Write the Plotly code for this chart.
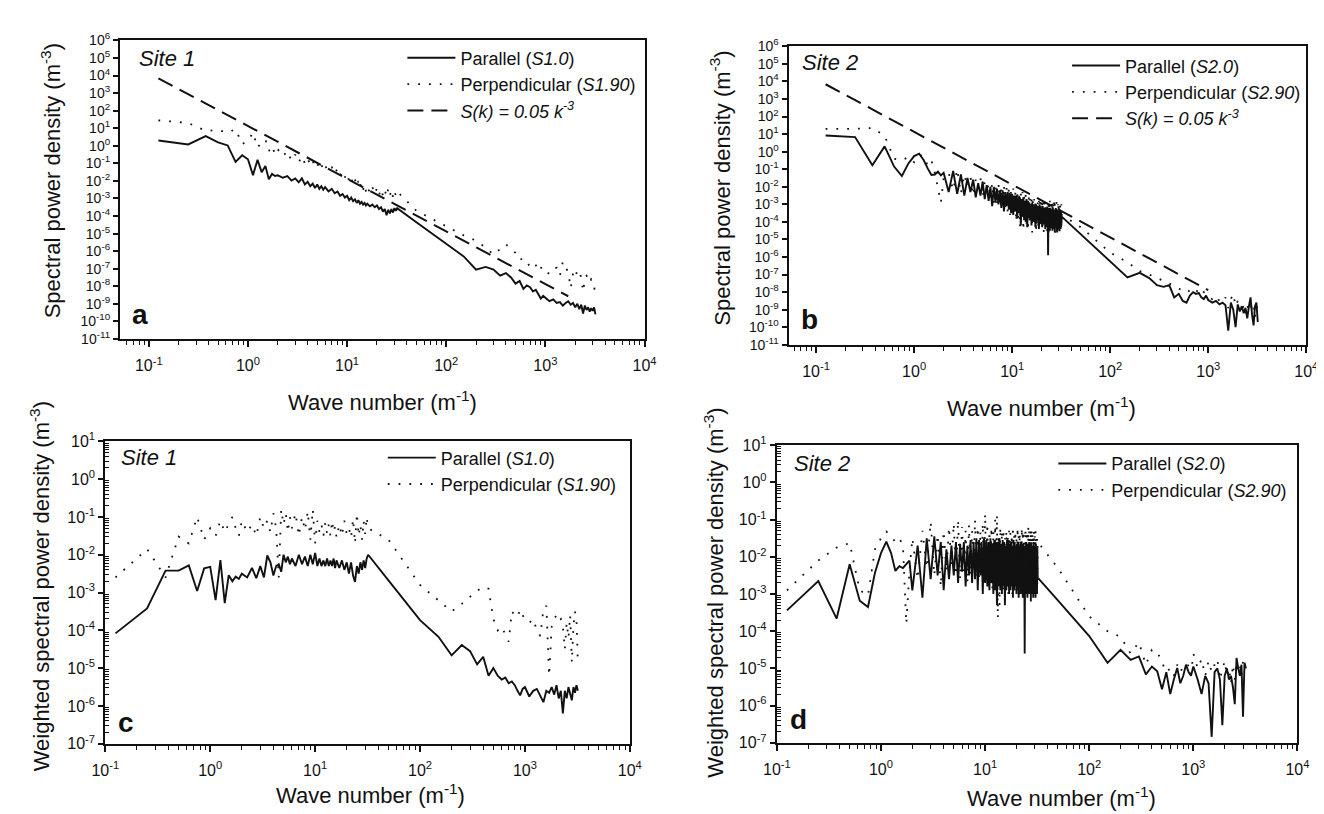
import plotly.graph_objects as go

# ---------------- data (wave number grids, m^-1) ----------------
# Site 1 grid
K1_LO = [0.125, 0.25, 0.375, 0.5, 0.625, 0.75, 0.875, 1.0, 1.125, 1.25, 1.375, 1.5, 1.625, 1.75, 1.875, 2.0,
         2.25, 2.5, 2.75, 3.0, 3.25, 3.5, 3.75, 4.0, 4.25, 4.5, 4.75, 5.0,
         5.25, 5.5, 5.75, 6.0,
         6.5, 7.0, 7.5, 8.0, 8.5, 9.0, 9.5, 10.0,
         10.5, 11, 11.5, 12, 12.5, 13, 13.5, 14, 14.5, 15, 15.5, 16,
         17, 18, 19, 20, 21, 22, 23, 24, 25, 26, 27, 28, 29, 30, 31, 32]
# Site 2 grid (finer in the noisy band)
K2_LO = [0.125, 0.25, 0.375, 0.5, 0.625, 0.75, 0.875, 1.0, 1.125, 1.25, 1.375, 1.5, 1.625, 1.75, 1.875, 2.0,
         2.25, 2.5, 2.75, 3.0, 3.25, 3.5, 3.75, 4.0, 4.25, 4.5, 4.75, 5.0, 5.25, 5.5, 5.75, 6.0,
         6.25, 6.5, 6.75, 7.0, 7.25, 7.5, 7.75, 8.0, 8.25, 8.5, 8.75, 9.0, 9.25, 9.5, 9.75, 10.0,
         10.25, 10.5, 10.75, 11.0, 11.25, 11.5, 11.75, 12.0, 12.25, 12.5, 12.75, 13.0, 13.25, 13.5, 13.75, 14.0,
         14.25, 14.5, 14.75, 15.0, 15.25, 15.5, 15.75, 16.0, 16.25, 16.5, 16.75, 17.0, 17.25, 17.5, 17.75, 18.0,
         18.25, 18.5, 18.75, 19.0, 19.25, 19.5, 19.75, 20.0, 20.25, 20.5, 20.75, 21.0, 21.25, 21.5, 21.75, 22.0,
         22.25, 22.5, 22.75, 23.0, 23.25, 23.5, 23.75, 24.0, 24.25, 24.5, 24.75, 25.0, 25.25, 25.5, 25.75, 26.0,
         26.25, 26.5, 26.75, 27.0, 27.25, 27.5, 27.75, 28.0, 28.25, 28.5, 28.75, 29.0, 29.25, 29.5, 29.75, 30.0,
         30.25, 30.5, 30.75, 31.0, 31.25, 31.5, 31.75, 32.0]
K_HI = [50, 100, 150, 200, 250, 300, 350, 400, 450, 500, 550, 600, 650, 700, 750, 800, 850, 900, 950, 1000,
        1100, 1200, 1300, 1400, 1500, 1600, 1700, 1800, 1900, 2000, 2100, 2200, 2300, 2400, 2500, 2600,
        2700, 2800, 2900, 3000, 3100, 3200]

# series values given as log10 of the density
# (a) Site 1 spectral power density
A_PAR = [0.3, 0.08, 0.55, 0.2, 0.02, -0.92, -0.54, -0.77, -1.67, -0.8, -1.5, -1.15, -1.9, -1.6, -1.72, -1.68,
         -1.82, -1.72, -1.98, -1.86, -2.08, -1.85, -2.2, -2.05, -2.3, -2.15, -2.4, -2.2,
         -2.45, -2.3, -2.5, -2.35,
         -2.6, -2.45, -2.7, -2.6, -2.85, -2.75, -2.95, -2.85,
         -3.1, -2.95, -3.15, -3.05, -3.25, -3.1, -3.3, -3.2, -3.35, -3.25, -3.4, -3.3,
         -3.45, -3.35, -3.5, -3.4, -3.6, -3.5, -3.75, -3.6, -3.95, -3.65, -3.85, -3.6, -3.8, -3.55, -3.7, -3.55,
         -4.35, -5.58, -6.3, -7.05, -6.9, -7.05, -7.4, -7.25, -7.5, -7.85, -7.7, -8.15, -7.95, -8.05, -8.3, -8.2,
         -8.45, -8.7, -8.55, -8.65, -8.85, -8.75, -8.95, -8.9, -9.1, -8.95, -8.85, -9.05, -8.95, -9.2, -9.0,
         -9.3, -9.05, -9.55, -9.1, -9.35, -9.2, -9.45, -9.25, -9.4, -9.2, -9.6]
A_PERP = [1.45, 1.3, 0.85, 0.9, 0.75, 0.95, 0.1, 0.3, 0.75, -0.1, 0.2, 0.35, -0.3, 0.0, -0.5, -0.2,
          -0.6, -0.3, -0.85, -0.5, -0.95, -0.6, -1.0, -0.7, -1.1, -0.85, -1.2, -1.0,
          -1.3, -1.05, -1.4, -1.15,
          -1.45, -1.2, -1.6, -1.3, -1.7, -1.45, -1.8, -1.55,
          -2.05, -1.8, -2.2, -1.9, -2.3, -2.0, -2.4, -2.1, -2.5, -2.2, -2.6, -2.3,
          -2.7, -2.35, -2.75, -2.4, -2.8, -2.45, -2.85, -2.5, -2.9, -2.45, -2.85, -2.5, -2.9, -2.55, -2.85, -2.6,
          -3.7, -4.6, -5.1, -5.4, -5.8, -6.2, -5.9, -5.6, -5.9, -6.1, -6.5, -6.4, -6.6, -6.9, -6.7, -6.8,
          -7.1, -6.9, -7.2, -7.15, -7.3, -7.0, -6.95, -7.4, -6.6, -6.9, -7.2, -8.1, -7.3, -7.0, -7.4,
          -7.2, -7.5, -8.3, -7.6, -7.4, -7.5, -7.8, -7.6, -7.7, -8.0, -8.6]
# (b) Site 2 spectral power density
B_PAR = [0.92, 0.83, -0.77, 0.3, -0.85, -1.39, -0.67, -0.25, -0.11, -0.48, -0.95, -1.33, -1.3, -1.14, -1.35, -1.2,
         -2.3, -1.1, -2.4, -1.3, -2.5, -1.5, -2.3, -1.6, -2.6, -1.8, -2.5, -1.7, -2.7, -1.9, -2.8, -2.0,
         -3.1, -2.0, -2.9, -2.1, -3.0, -2.2, -3.2, -2.2, -3.4, -2.3, -3.1, -2.3, -3.3, -2.4, -3.5, -2.4,
         -3.6, -2.5, -3.4, -2.5, -3.8, -2.6, -3.5, -2.6, -4.2, -2.7, -3.7, -2.6, -3.9, -2.8, -4.0, -2.7,
         -4.3, -2.8, -3.8, -2.9, -3.9, -3.0, -4.2, -2.9, -4.0, -3.0, -3.9, -3.0, -4.3, -3.0, -4.1, -3.1,
         -3.9, -3.1, -4.4, -3.0, -4.1, -3.1, -4.0, -3.2, -4.3, -3.1, -3.9, -3.2, -4.1, -3.2, -4.4, -3.2,
         -4.0, -3.3, -4.3, -3.2, -5.9, -3.2, -4.2, -3.3, -4.5, -3.2, -4.1, -3.3, -4.3, -3.3, -4.5, -3.2,
         -4.2, -3.3, -4.4, -3.4, -4.6, -3.3, -4.2, -3.3, -4.3, -3.4, -4.6, -3.3, -4.4, -3.4, -4.2, -3.4,
         -4.5, -3.3, -4.3, -3.5, -4.4, -3.4, -4.2, -3.7,
         -4.7, -6.25, -7.16, -6.9, -7.2, -7.6, -7.7, -7.6, -8.3, -8.1, -8.5, -8.6, -8.2, -8.0, -8.1, -8.05,
         -8.3, -8.4, -8.2, -8.45, -8.6, -8.5, -8.7, -8.6, -8.75, -10.2, -8.6, -9.0, -10.0, -8.7, -9.1,
         -8.8, -9.2, -8.9, -9.5, -8.8, -8.3, -9.3, -9.9, -8.8, -8.6, -9.7]
B_PERP = [1.3, 1.3, 1.35, 0.9, -0.4, -0.5, -0.3, -0.6, -0.2, -0.25, -0.8, -0.5, -1.2, -2.0, -2.9, -1.5,
          -1.2, -2.2, -1.0, -2.4, -1.3, -2.0, -1.4, -2.5, -1.6, -2.1, -1.5, -2.6, -1.7, -2.4, -1.8, -2.7,
          -1.8, -2.9, -1.9, -3.1, -1.8, -3.0, -2.0, -3.3, -1.9, -3.2, -2.0, -3.4, -2.0, -3.6, -2.1, -3.5,
          -2.1, -3.6, -2.2, -4.0, -2.2, -3.8, -2.3, -4.3, -2.4, -3.9, -2.3, -4.5, -2.5, -3.8, -2.4, -4.1,
          -2.6, -4.5, -2.5, -3.9, -2.7, -3.8, -2.6, -4.6, -2.8, -4.0, -2.7, -4.2, -2.8, -4.6, -2.8, -3.9,
          -2.9, -4.4, -2.8, -4.1, -2.8, -4.3, -2.9, -3.9, -2.9, -4.4, -2.8, -4.6, -2.9, -4.1, -3.0, -4.3,
          -2.8, -4.5, -2.9, -4.0, -3.0, -4.7, -2.9, -4.2, -2.8, -4.4, -3.0, -4.6, -2.9, -4.1, -2.8, -4.3,
          -3.0, -4.5, -2.9, -3.9, -2.9, -4.6, -3.0, -4.2, -2.8, -4.3, -3.1, -4.5, -3.0, -4.0, -2.9, -4.4,
          -2.9, -4.6, -3.0, -4.1, -3.1, -4.3, -3.0, -3.6,
          -4.3, -5.75, -6.3, -6.8, -7.0, -7.2, -7.4, -7.5, -7.7, -7.8, -7.9, -7.8, -8.0, -8.1, -7.9, -8.0,
          -8.2, -8.0, -8.1, -8.3, -8.4, -8.2, -8.5, -8.6, -8.3, -8.9, -8.4, -8.1, -8.8, -8.5, -9.0,
          -8.6, -8.9, -9.3, -8.7, -9.1, -8.5, -9.2, -8.9, -9.4, -8.8, -9.0]
# (c) Site 1 weighted spectral power density
C_PAR = [-4.08, -3.42, -2.42, -2.42, -2.28, -2.96, -2.36, -2.32, -3.2, -2.14, -3.28, -2.54, -2.7, -2.58, -2.64, -2.5,
         -2.6, -2.35, -2.62, -2.3, -2.6, -2.02, -2.2, -2.55, -2.3, -2.25, -2.45, -2.0,
         -2.2, -2.05, -2.25, -2.1,
         -2.3, -2.0, -2.25, -2.05, -2.3, -2.0, -2.25, -1.95,
         -2.3, -2.1, -2.3, -2.15, -2.3, -2.1, -2.3, -2.15, -2.3, -2.1, -2.35, -2.15,
         -2.35, -2.15, -2.4, -2.2, -2.5, -2.2, -2.55, -2.72, -2.3, -2.5, -2.2, -2.4, -2.15, -2.35, -2.1, -2.0,
         -2.68, -3.73, -4.17, -4.66, -4.39, -4.55, -4.9, -4.7, -5.2, -5.0, -5.2, -5.3, -5.25, -5.4, -5.35, -5.45,
         -5.6, -5.72, -5.55, -5.5, -5.75, -5.6, -5.55, -5.75, -5.9, -5.6, -5.65, -5.5, -5.7, -5.45, -5.8,
         -5.6, -6.2, -5.6, -5.8, -5.5, -5.7, -5.85, -5.5, -5.65, -5.45, -5.6]
C_PERP = [-2.6, -1.85, -2.6, -1.52, -1.7, -1.0, -1.6, -1.3, -1.5, -1.1, -1.4, -1.2, -1.0, -1.3, -1.5, -1.1,
          -1.4, -1.2, -1.5, -1.0, -1.3, -1.1, -1.4, -0.9, -1.3, -2.6, -0.8, -1.2,
          -0.9, -1.4, -1.0, -1.3,
          -0.9, -1.5, -1.0, -1.35, -0.85, -1.6, -0.8, -1.7,
          -1.1, -1.4, -1.2, -1.5, -1.15, -1.45, -1.2, -1.5, -1.1, -1.4, -1.25, -1.55,
          -1.2, -1.5, -1.1, -1.45, -1.3, -1.55, -1.05, -1.7, -0.9, -1.5, -1.2, -1.6, -1.1, -1.45, -1.0, -1.3,
          -1.6, -2.8, -3.2, -3.5, -3.3, -3.1, -2.95, -2.85, -2.9, -3.7, -4.0, -3.9, -4.1, -4.3, -3.5, -3.6,
          -3.65, -3.45, -3.6, -3.7, -3.8, -3.7, -4.0, -4.15, -3.45, -3.35, -5.2, -3.9, -3.7, -3.6, -3.75,
          -3.7, -3.9, -4.5, -3.8, -4.2, -3.6, -4.85, -3.9, -3.5, -3.7, -4.9]
# (d) Site 2 weighted spectral power density
D_PAR = [-3.44, -2.65, -3.66, -2.2, -3.18, -3.35, -2.43, -1.9, -1.59, -1.9, -2.38, -2.25, -2.3, -2.2, -2.1, -2.9,
         -1.7, -3.1, -1.5, -2.6, -1.45, -2.5, -1.6, -2.9, -1.8, -2.6, -1.7, -2.5, -1.6, -2.7, -1.65, -2.4,
         -1.6, -2.8, -1.7, -2.5, -1.55, -2.7, -1.6, -2.6, -1.5, -2.9, -1.55, -2.5, -1.6, -3.0, -1.5, -2.7,
         -1.55, -2.8, -1.6, -2.9, -1.5, -2.7, -1.65, -3.0, -1.55, -2.9, -1.6, -3.3, -1.6, -2.8, -1.5, -2.9,
         -1.65, -3.0, -1.55, -2.8, -1.6, -3.3, -1.7, -2.9, -1.55, -2.8, -1.6, -3.0, -1.65, -2.9, -1.6, -2.8,
         -1.7, -3.1, -1.55, -2.9, -1.6, -2.8, -1.7, -3.0, -1.65, -2.9, -1.6, -3.1, -1.7, -2.8, -1.65, -3.0,
         -1.6, -2.9, -1.7, -3.1, -1.65, -3.0, -1.7, -4.6, -1.75, -2.9, -1.6, -3.0, -1.7, -3.1, -1.65, -2.9,
         -1.75, -3.0, -1.6, -2.8, -1.7, -3.2, -1.65, -2.9, -1.75, -3.0, -1.7, -3.1, -1.6, -2.9, -1.75, -3.0,
         -1.7, -3.1, -1.65, -2.9, -1.8, -3.0, -1.75, -2.56,
         -3.17, -4.13, -4.85, -4.5, -4.77, -4.68, -5.16, -4.95, -5.08, -5.56, -5.1, -5.69, -5.3, -4.99, -5.4, -5.2,
         -4.9, -5.1, -5.2, -4.95, -5.3, -5.69, -5.2, -5.4, -6.84, -5.1, -5.0, -5.3, -6.53, -5.2, -5.0,
         -5.3, -5.2, -5.5, -5.96, -4.72, -5.0, -5.2, -4.9, -6.3, -4.85, -5.0]
D_PERP = [-2.9, -2.1, -1.75, -1.63, -2.9, -3.04, -1.8, -1.5, -1.32, -1.45, -1.6, -1.5, -1.7, -3.8, -2.4, -1.5,
          -2.6, -1.3, -2.3, -1.06, -2.5, -1.4, -2.8, -1.3, -2.4, -1.2, -2.2, -1.1, -2.5, -1.0, -2.6, -1.2,
          -2.4, -1.3, -2.7, -1.15, -2.5, -1.3, -2.3, -1.0, -2.5, -1.2, -2.6, -1.3, -2.3, -1.1, -2.7, -0.84,
          -2.6, -1.1, -2.8, -1.3, -2.4, -1.2, -2.9, -1.3, -2.5, -1.0, -2.7, -0.88, -3.66, -1.4, -3.3, -1.2,
          -2.6, -1.3, -3.0, -1.25, -2.9, -1.5, -2.6, -1.3, -2.7, -1.4, -3.0, -1.3, -2.8, -1.35, -2.6, -1.4,
          -3.0, -1.3, -2.7, -1.45, -2.9, -1.3, -2.6, -1.5, -2.6, -1.2, -2.8, -1.4, -3.1, -1.35, -2.7, -1.5,
          -2.8, -1.2, -3.0, -1.3, -2.9, -1.4, -3.1, -1.35, -2.8, -1.25, -2.7, -1.4, -2.9, -1.3, -2.8, -1.2,
          -2.7, -1.3, -3.0, -1.4, -2.8, -1.25, -2.9, -1.3, -2.7, -1.35, -3.0, -1.4, -2.9, -1.3, -2.8, -1.45,
          -2.7, -1.3, -2.9, -1.4, -3.0, -1.4, -2.8, -1.6,
          -2.3, -3.6, -4.0, -4.15, -4.6, -4.3, -4.9, -4.5, -4.55, -4.85, -5.1, -5.0, -5.2, -4.9, -5.1, -4.95,
          -5.0, -4.9, -5.15, -4.6, -5.0, -4.75, -5.2, -4.8, -5.1, -4.9, -4.75, -5.3, -5.0, -4.8, -5.2,
          -5.0, -5.4, -4.9, -5.3, -4.85, -5.1, -4.95, -5.2, -4.8, -5.0, None]

# reference power law S(k) = 0.05 k^-3, end points as drawn
REF_A_K = [0.125, 1700]
REF_A_S = [6.9e3, 2.7e-9]
REF_B_K = [0.125, 1000]
REF_B_S = [6.9e3, 1.3e-8]

X_TICKS = [0.1, 1, 10, 100, 1000, 10000]
X_TICKTEXT = ["10<sup>-1</sup>", "10<sup>0</sup>", "10<sup>1</sup>", "10<sup>2</sup>", "10<sup>3</sup>", "10<sup>4</sup>"]
Y_TICKS_AB = [10.0 ** e for e in range(-11, 7)]
Y_TICKTEXT_AB = ["10<sup>%d</sup>" % e for e in range(-11, 7)]
Y_TICKS_CD = [10.0 ** e for e in range(-7, 2)]
Y_TICKTEXT_CD = ["10<sup>%d</sup>" % e for e in range(-7, 2)]

# ---------------- figure ----------------
W, H = 1324, 814
FONT = "Liberation Sans, Arial, Helvetica, sans-serif"
BLACK = "#111111"
K1 = K1_LO + K_HI
K2 = K2_LO + K_HI


def lin(vals):
    return [None if v is None else 10.0 ** v for v in vals]


def px(xp):
    return xp / W


def py(yp):
    return 1 - yp / H


fig = go.Figure()

panels = [
    ("x", "y", "legend", K1, A_PAR, A_PERP, "Parallel (<i>S1.0</i>)", "Perpendicular (<i>S1.90</i>)", REF_A_K, REF_A_S),
    ("x2", "y2", "legend2", K2, B_PAR, B_PERP, "Parallel (<i>S2.0</i>)", "Perpendicular (<i>S2.90</i>)", REF_B_K, REF_B_S),
    ("x3", "y3", "legend3", K1, C_PAR, C_PERP, "Parallel (<i>S1.0</i>)", "Perpendicular (<i>S1.90</i>)", None, None),
    ("x4", "y4", "legend4", K2, D_PAR, D_PERP, "Parallel (<i>S2.0</i>)", "Perpendicular (<i>S2.90</i>)", None, None),
]

for i, (xa, ya, lg, kk, par, perp, npar, nperp, rk, rs) in enumerate(panels):
    fig.add_trace(go.Scatter(x=kk, y=lin(par), mode="lines", name=npar, xaxis=xa, yaxis=ya,
                             legend=lg, legendgroup="p%d" % i,
                             line=dict(color=BLACK, width=1.9)))
    fig.add_trace(go.Scatter(x=kk, y=lin(perp), mode="lines", name=nperp, xaxis=xa, yaxis=ya,
                             legend=lg, legendgroup="q%d" % i,
                             line=dict(color=BLACK, width=1.8, dash="1.8px,9px")))
    if rk is not None:
        fig.add_trace(go.Scatter(x=rk, y=rs, mode="lines",
                                 name="<i>S(k) = 0.05 k<sup>-3</sup></i>", xaxis=xa, yaxis=ya,
                                 legend=lg, legendgroup="r%d" % i,
                                 line=dict(color=BLACK, width=2.0, dash="16px,8px")))

# panel boxes in pixels: left, right, top, bottom
BOX = {
    "a": (100, 635, 22, 328),
    "b": (782, 1310, 28, 334),
    "c": (85, 620, 433, 743),
    "d": (770, 1301, 437, 742),
}
XR = {"a": [-1.29, 4], "b": [-1.28, 4], "c": [-1, 4], "d": [-1, 4]}

minor_x = [d * 10.0 ** e for e in range(-2, 4) for d in range(2, 10)]
minor_y = [d * 10.0 ** e for e in range(-8, 1) for d in range(2, 10)]

layout = dict(width=W, height=H, margin=dict(l=0, r=0, t=0, b=0),
              paper_bgcolor="white", plot_bgcolor="white",
              font=dict(family=FONT, color=BLACK), showlegend=True)

for idx, key in enumerate(["a", "b", "c", "d"]):
    l, r, t, b = BOX[key]
    sfx = "" if idx == 0 else str(idx + 1)
    layout["xaxis" + sfx] = dict(
        type="log", domain=[px(l), px(r)], range=XR[key], anchor="y" + sfx,
        showline=True, linecolor=BLACK, linewidth=2.2, mirror=True,
        ticks="outside", ticklen=6, tickwidth=1.6, tickcolor=BLACK,
        tickmode="array", tickvals=X_TICKS, ticktext=X_TICKTEXT,
        tickfont=dict(size=16, family=FONT, color=BLACK), ticklabelstandoff=5,
        showgrid=False, zeroline=False,
        minor=dict(ticks="outside", ticklen=4, tickwidth=1.3, tickcolor=BLACK,
                   tickmode="array", tickvals=minor_x, showgrid=False))
    ycfg = dict(
        type="log", domain=[py(b), py(t)], anchor="x" + sfx,
        showline=True, linecolor=BLACK, linewidth=2.2, mirror=True,
        ticks="outside", ticklen=5, tickwidth=1.6, tickcolor=BLACK,
        tickmode="array", showgrid=False, zeroline=False)
    if key in ("a", "b"):
        ycfg.update(range=[-11, 6], tickvals=Y_TICKS_AB, ticktext=Y_TICKTEXT_AB,
                    tickfont=dict(size=14, family=FONT, color=BLACK))
    else:
        ycfg.update(range=[-7, 1], tickvals=Y_TICKS_CD, ticktext=Y_TICKTEXT_CD,
                    tickfont=dict(size=16, family=FONT, color=BLACK),
                    minor=dict(ticks="inside", ticklen=4, tickwidth=1, tickcolor=BLACK,
                               tickmode="array", tickvals=minor_y, showgrid=False))
    layout["yaxis" + sfx] = ycfg

LEG_POS = {"legend": (388, 21), "legend2": (1066, 29), "legend3": (368, 431), "legend4": (1052, 437)}
for name, (lx, ly) in LEG_POS.items():
    layout[name] = dict(x=px(lx), y=py(ly), xanchor="left", yanchor="top",
                        bgcolor="rgba(0,0,0,0)", borderwidth=0,
                        font=dict(size=18, family=FONT, color=BLACK),
                        itemwidth=48, tracegroupgap=0, traceorder="grouped")

fig.update_layout(**layout)

annos = []


def txt(x, y, s, size, angle=0):
    annos.append(dict(x=px(x), y=py(y), xref="paper", yref="paper", text=s, showarrow=False,
                      textangle=angle, xanchor="center", yanchor="middle",
                      font=dict(size=size, family=FONT, color=BLACK)))


# axis titles
txt(29, 166, "Spectral power density (m<sup>-3</sup>)", 22, -90)
txt(712, 174, "Spectral power density (m<sup>-3</sup>)", 22, -90)
txt(18, 582, "Weighted spectral power density (m<sup>-3</sup>)", 22, -90)
txt(705, 588, "Weighted spectral power density (m<sup>-3</sup>)", 22, -90)
txt(368, 392, "Wave number (m<sup>-1</sup>)", 22)
txt(1040, 398, "Wave number (m<sup>-1</sup>)", 22)
txt(355, 795, "Wave number (m<sup>-1</sup>)", 22)
txt(1060, 798, "Wave number (m<sup>-1</sup>)", 22)
# site labels and panel letters
txt(148, 41, "<i>Site 1</i>", 22)
txt(824, 45, "<i>Site 2</i>", 22)
txt(130, 450, "<i>Site 1</i>", 22)
txt(816, 456, "<i>Site 2</i>", 22)
txt(120, 303, "<b>a</b>", 28)
txt(803, 308, "<b>b</b>", 28)
txt(106, 721, "<b>c</b>", 28)
txt(792, 718, "<b>d</b>", 28)

fig.update_layout(annotations=annos)
fig.write_html("out.html")
